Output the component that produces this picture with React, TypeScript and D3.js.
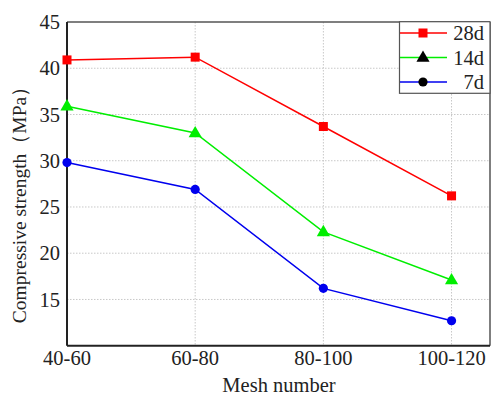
import React from "react";
import * as d3 from "d3";

const categories = ["40-60", "60-80", "80-100", "100-120"];
const s28 = [40.9, 41.2, 33.7, 26.2];
const s14 = [35.9, 33.0, 22.3, 17.1];
const s7 = [29.8, 26.9, 16.2, 12.7];
const yTicks = [15, 20, 25, 30, 35, 40, 45];
const seriesNames = ["28d", "14d", "7d"];
const seriesColors = ["#ff0000", "#00ee00", "#0000ee"];
const seriesShapes = ["square", "triangle", "circle"];

const W = 492, H = 398;
const L = 67, R = 490, T = 22, B = 345.7;

export default function App() {
  const x = d3.scaleLinear().domain([0, 3.3]).range([L, R]);
  const y = d3.scaleLinear().domain([10, 45]).range([B, T]);
  const data = [s28, s14, s7];
  const line = d3.line<number>().x((_, i) => x(i)).y(d => y(d));
  const font = "Liberation Serif";

  const marker = (shape: string, cx: number, cy: number, color: string, key: string) => {
    if (shape === "square") return <rect key={key} x={cx - 4.5} y={cy - 4.5} width={9} height={9} fill={color} />;
    if (shape === "triangle") {
      const p = d3.symbol(d3.symbolTriangle, 75)();
      return <path key={key} d={p!} transform={`translate(${cx},${cy + 0.5})`} fill={color} />;
    }
    return <circle key={key} cx={cx} cy={cy} r={4.6} fill={color} />;
  };

  return (
    <svg width={W} height={H} style={{ position: "absolute", left: 0, top: 0, background: "#fff" }}>
      {/* grid */}
      {yTicks.filter(t => t < 45).map(t => (
        <line key={"gy" + t} x1={L} x2={R} y1={y(t)} y2={y(t)} stroke="#c8c8c8" strokeDasharray="1.5,1.5" strokeWidth={1} />
      ))}
      {categories.map((c, i) => i > 0 && (
        <line key={"gx" + c} x1={x(i)} x2={x(i)} y1={T} y2={B} stroke="#c8c8c8" strokeDasharray="1.5,1.5" strokeWidth={1} />
      ))}
      {/* frame */}
      <line x1={L} x2={R} y1={T} y2={T} stroke="#555" strokeWidth={1.5} />
      <line x1={R} x2={R} y1={T} y2={B} stroke="#555" strokeWidth={1.5} />
      <line x1={L} x2={L} y1={T} y2={B} stroke="#222" strokeWidth={2} />
      <line x1={L} x2={R} y1={B} y2={B} stroke="#222" strokeWidth={2} />
      {/* series */}
      {data.map((s, k) => (
        <g key={"s" + k}>
          <path d={line(s)!} fill="none" stroke={seriesColors[k]} strokeWidth={1.5} />
          {s.map((v, i) => marker(seriesShapes[k], x(i), y(v), seriesColors[k], `m${k}-${i}`))}
        </g>
      ))}
      {/* y ticks */}
      {yTicks.map(t => (
        <text key={"ty" + t} x={60} y={y(t)} dy="0.35em" textAnchor="end" fontFamily={font} fontSize={20.5} fill="#222">{t}</text>
      ))}
      {categories.map((c, i) => (
        <text key={"tx" + c} x={x(i)} y={365} textAnchor="middle" fontFamily={font} fontSize={20.5} fill="#222">{c}</text>
      ))}
      <text x={279} y={392} textAnchor="middle" fontFamily={font} fontSize={20.5} fill="#222">Mesh number</text>
      <text transform={`translate(26,200) rotate(-90)`} textAnchor="middle" fontFamily={font} fontSize={19.5} fill="#222">Compressive strength（MPa）</text>
      {/* legend */}
      <rect x={399.5} y={21.7} width={90.5} height={71.6} fill="#fff" stroke="#555" strokeWidth={1.2} />
      {seriesNames.map((n, k) => {
        const ly = 33 + k * 24.5;
        return (
          <g key={"l" + n}>
            <line x1={400} x2={447} y1={ly} y2={ly} stroke={seriesColors[k]} strokeWidth={1.5} />
            {marker(seriesShapes[k], 423, ly, k === 0 ? seriesColors[k] : "#000", "lm" + k)}
            <text x={484} y={ly} dy="0.35em" textAnchor="end" fontFamily={font} fontSize={20.5} fill="#222">{n}</text>
          </g>
        );
      })}
    </svg>
  );
}
